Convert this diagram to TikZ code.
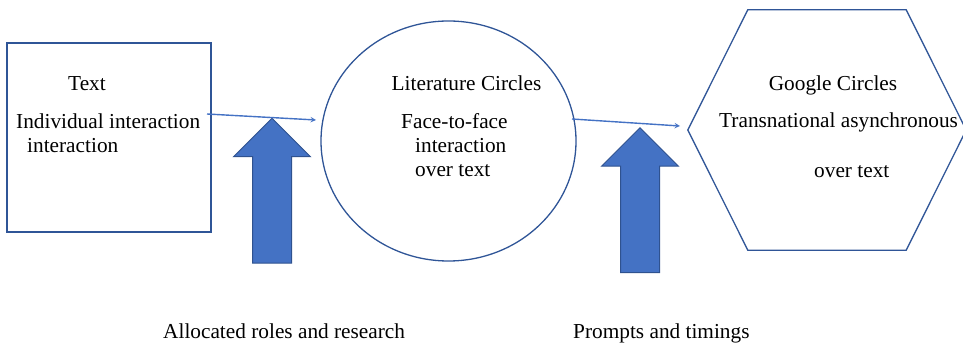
\documentclass[tikz,border=0pt]{standalone}
\usepackage{fontspec}
\setmainfont{Liberation Serif}
\usetikzlibrary{shapes.geometric, shapes.arrows, arrows}
\definecolor{edgeblue}{RGB}{47,85,151}
\definecolor{fillblue}{RGB}{68,114,196}
\definecolor{darkblue}{RGB}{47,82,143}
\tikzstyle{textbox} = [rectangle, minimum width=204pt, minimum height=189pt, draw=edgeblue, line width=1.3pt]
\tikzstyle{litcircle} = [ellipse, minimum width=255pt, minimum height=240pt, draw=edgeblue, line width=1.3pt]
\tikzstyle{hexbox} = [rectangle, inner sep=0pt, minimum width=158pt, minimum height=240pt]
\tikzstyle{hexedge} = [draw=edgeblue, line width=1.3pt]
\tikzstyle{words} = [inner sep=0pt, font=\fontsize{21.3}{26}\selectfont]
\tikzstyle{lefttext} = [words, anchor=base west]
\tikzstyle{midtext} = [words, anchor=base]
\tikzstyle{uparrow} = [single arrow, rotate=90, fill=fillblue, draw=darkblue, line width=1pt, inner sep=19pt, single arrow head extend=19pt, minimum width=76pt, minimum height=145pt]
\tikzstyle{arrow} = [line width=1.4pt, draw=fillblue, ->, >=stealth]

\begin{document}
\begin{tikzpicture}[x=1pt, y=-1pt]
\useasboundingbox (0,0) rectangle (963,344);

\node (text) [textbox] at (109,137.5) {};
\node (lit) [litcircle] at (448.5,141) {};
\node (gc) [hexbox] at (827,130) {};
\draw [hexedge] (gc.north west) -- (gc.north east) -- ([xshift=60pt]gc.east) -- (gc.south east) -- (gc.south west) -- ([xshift=-60pt]gc.west) -- cycle;

\node (t1) [midtext] at (87,91) {Text};
\node (t2) [lefttext] at (16,129) {Individual interaction};
\node (t3) [lefttext] at (27,153) {interaction};

\node (l1) [midtext] at (466.5,91) {Literature Circles};
\node (l2) [lefttext] at (401,129) {Face-to-face};
\node (l3) [lefttext] at (415,153) {interaction};
\node (l4) [lefttext] at (415,177) {over text};

\node (g1) [midtext] at (833,91) {Google Circles};
\node (g2) [lefttext] at (719,128) {Transnational asynchronous};
\node (g3) [lefttext] at (814,178) {over text};

\node (roles) [uparrow] at (272,200.5) {};
\node (prompts) [uparrow] at (640,210) {};

\node (rolestext) [lefttext] at (163,338) {Allocated roles and research};
\node (promptstext) [lefttext] at (573,338) {Prompts and timings};

\coordinate (out1) at (207,114);
\coordinate (in1) at (316,120);
\coordinate (out2) at (572,119);
\coordinate (in2) at (680,126);
\draw [arrow] (out1) -- (in1);
\draw [arrow] (out2) -- (in2);
\end{tikzpicture}
\end{document}
